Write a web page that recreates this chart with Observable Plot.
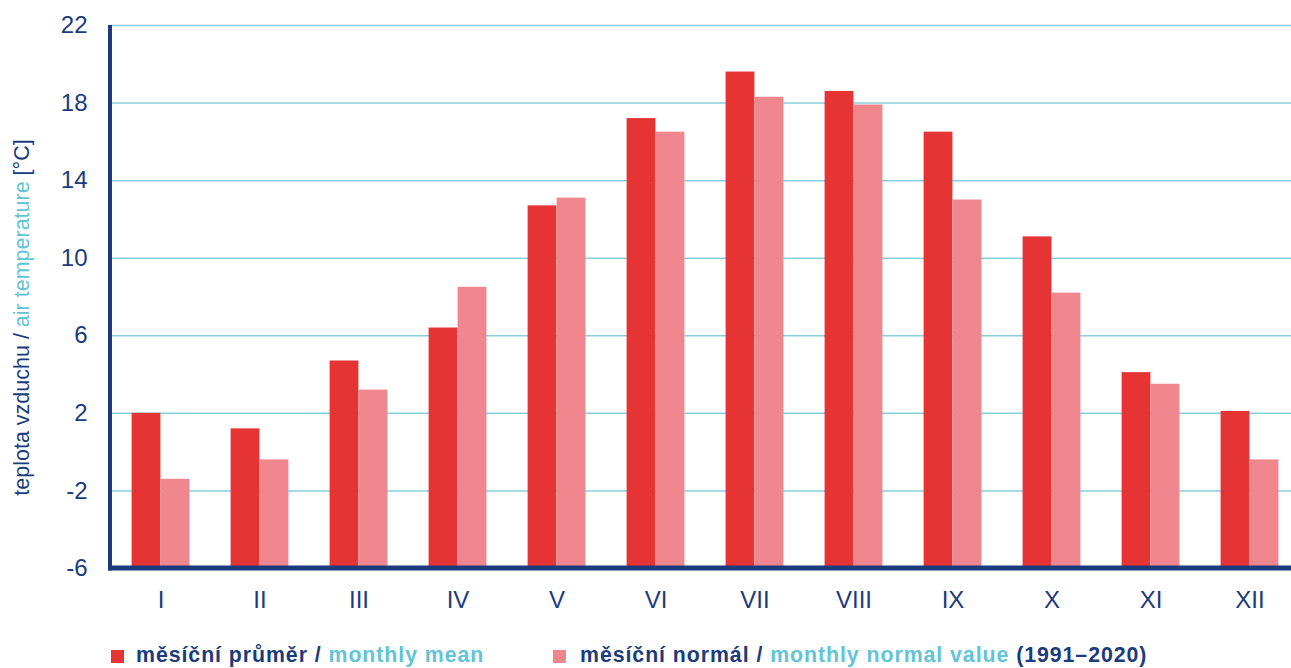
<!DOCTYPE html>
<html><head><meta charset="utf-8">
<script src="https://cdn.jsdelivr.net/npm/d3@7"></script>
<script src="https://cdn.jsdelivr.net/npm/@observablehq/plot@0.6"></script>
<style>
body{margin:0;background:#fff;font-family:"Liberation Sans",Arial,sans-serif;}
#wrap{position:relative;width:1291px;height:668px;overflow:hidden;}
#legend{position:absolute;top:643px;left:0;width:1291px;height:25px;font-weight:bold;font-size:21.3px;letter-spacing:0.95px;color:#1b3b7e;}
.item{position:absolute;top:0;white-space:nowrap;line-height:24px;}
.sw{position:absolute;top:7px;width:13px;height:13px;}
.cy{color:#62c4d6;}
</style>
</head><body>
<div id="wrap"><div id="chart"></div>
<div id="legend">
  <div class="item" style="left:111px"><span class="sw" style="left:0;background:#e63333"></span><span style="margin-left:25px">měsíční průměr / <span class="cy">monthly mean</span></span></div>
  <div class="item" style="left:553px"><span class="sw" style="left:0;background:#f0868e"></span><span style="margin-left:27px">měsíční normál / <span class="cy">monthly normal value</span> (1991–2020)</span></div>
</div></div>
<script>
const months = ["I","II","III","IV","V","VI","VII","VIII","IX","X","XI","XII"];
const monthlyMean = [2.0, 1.2, 4.7, 6.4, 12.7, 17.2, 19.6, 18.6, 16.5, 11.1, 4.1, 2.1];
const monthlyNormal = [-1.4, -0.4, 3.2, 8.5, 13.1, 16.5, 18.3, 17.9, 13.0, 8.2, 3.5, -0.4];
const yTicks = [-6, -2, 2, 6, 10, 14, 18, 22];

const navy = "#1b3b7e";
const rows = months.map((m, i) => ({month: m, mean: monthlyMean[i], normal: monthlyNormal[i]}));

const plot = Plot.plot({
  width: 1291, height: 620,
  marginLeft: 110, marginRight: 0, marginTop: 25, marginBottom: 52,
  style: {fontFamily: "'Liberation Sans', Arial, sans-serif", background: "white", overflow: "visible"},
  x: {domain: months, range: [110, 1300], padding: 0},
  y: {domain: [-6, 22]},
  marks: [
    Plot.ruleY(yTicks.filter(t => t > -6), {stroke: "#86cfdb", strokeWidth: 1.5}),
    Plot.barY(rows, {x: "month", y1: -6, y2: "mean", fill: "#e63333", insetLeft: 20.6, insetRight: 49.6}),
    Plot.barY(rows, {x: "month", y1: -6, y2: "normal", fill: "#f0868e", insetLeft: 49.6, insetRight: 20.6}),
    Plot.axisY({ticks: yTicks, tickFormat: d => String(d), tickSize: 0, tickPadding: 23, fontSize: 24, color: navy, label: null}),
    Plot.axisX({tickSize: 0, tickPadding: 22, fontSize: 24, color: navy, label: null})
  ]
});
document.getElementById("chart").appendChild(plot);

const sy = plot.scale("y");
const sx = plot.scale("x");
const x0 = sx.range[0];
const svg = d3.select(plot);
svg.append("line")
  .attr("x1", x0).attr("x2", x0)
  .attr("y1", sy.apply(22)).attr("y2", sy.apply(-6) + 2.5)
  .attr("stroke", navy).attr("stroke-width", 4);
svg.append("line")
  .attr("x1", x0 - 2).attr("x2", 1291)
  .attr("y1", sy.apply(-6)).attr("y2", sy.apply(-6))
  .attr("stroke", navy).attr("stroke-width", 5);

const mid = (sy.apply(22) + sy.apply(-6)) / 2;
const lab = svg.append("text")
  .attr("transform", `translate(29,${mid + 21}) rotate(-90)`)
  .attr("text-anchor", "middle")
  .attr("font-size", 21.5)
  .attr("font-family", "'Liberation Sans', Arial, sans-serif")
  .attr("fill", navy);
lab.append("tspan").text("teplota vzduchu / ");
lab.append("tspan").attr("fill", "#62c4d6").text("air temperature");
lab.append("tspan").text(" [°C]");
</script>
</body></html>
